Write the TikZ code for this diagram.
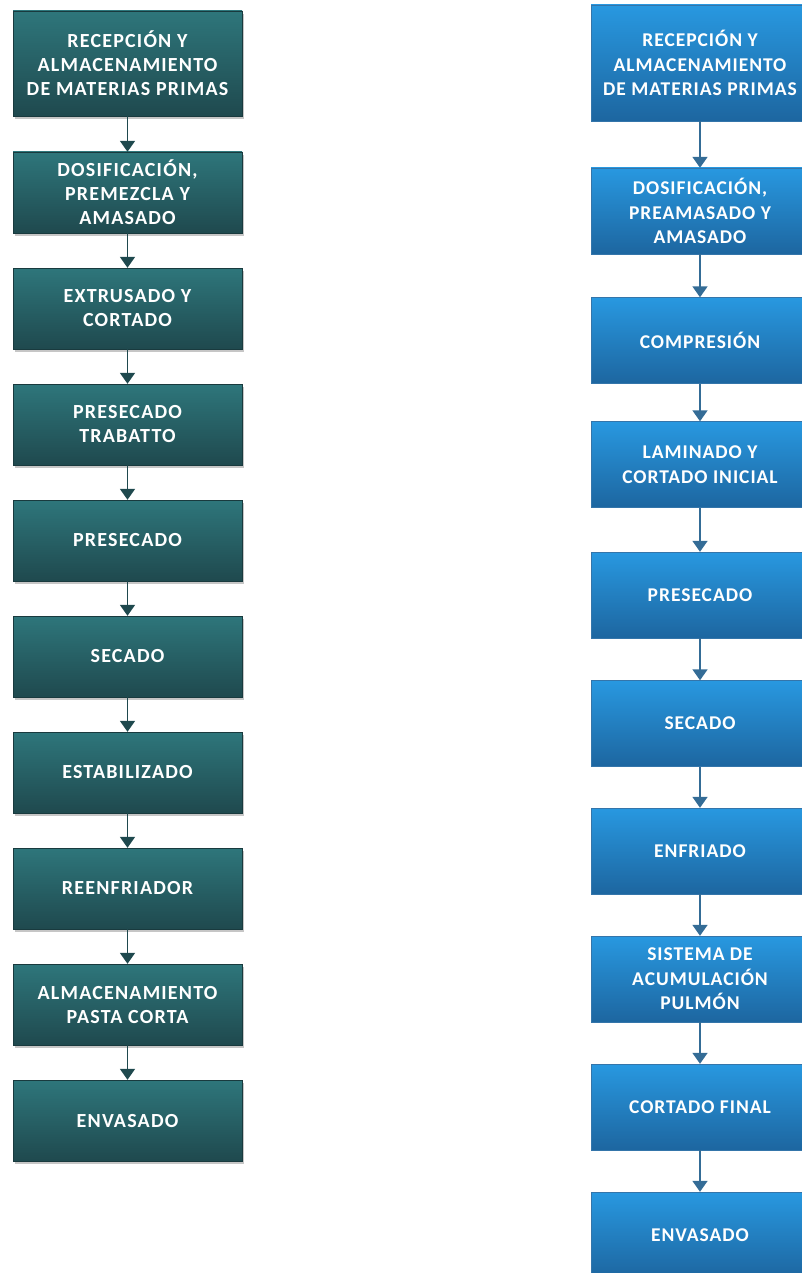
\documentclass[tikz,border=0pt]{standalone}
\usepackage{fontspec}
\usepackage{tikz}
\usetikzlibrary{arrows.meta,shadows}
\newfontfamily\boxfont{Carlito}[LetterSpace=6]
\newfontfamily\boxfontr{Carlito}[LetterSpace=5]

\definecolor{tealtop}{RGB}{46,118,123}
\definecolor{tealbot}{RGB}{31,73,78}
\definecolor{bluetop}{RGB}{40,152,224}
\definecolor{bluebot}{RGB}{29,102,160}
\definecolor{bluearrow}{RGB}{52,108,150}

\tikzset{
  leftbox/.style={rectangle, minimum width=229pt, minimum height=81pt, inner sep=0pt,
    top color=tealtop, bottom color=tealbot, draw=tealbot!80!black, line width=0.4pt,
    drop shadow={shadow xshift=2pt, shadow yshift=-3pt, opacity=0.45},
    text=white, align=center, font=\boxfont\bfseries\fontsize{20}{24}\selectfont},
  rightbox/.style={rectangle, minimum width=218pt, minimum height=86pt, inner sep=0pt,
    top color=bluetop, bottom color=bluebot, draw=bluebot!90!white, line width=0.4pt,
    text=white, align=center, font=\boxfontr\bfseries\fontsize{19.5}{24.5}\selectfont},
  leftarrow/.style={draw=tealbot, line width=1.8pt, -{Triangle[width=15pt,length=11pt]}},
  rightarrow/.style={draw=bluearrow, line width=1.8pt, -{Triangle[width=15pt,length=11pt]}}
}

\begin{document}
\begin{tikzpicture}[x=1pt,y=-1pt]
  \useasboundingbox (0,0) rectangle (802,1273);

  % pasta corta
  \node[leftbox, minimum height=105pt] (l1) at (127.5,63.5) {RECEPCIÓN Y\\ALMACENAMIENTO\\DE MATERIAS PRIMAS};
  \node[leftbox] (l2) at (127.5,192.5) {DOSIFICACIÓN,\\PREMEZCLA Y\\AMASADO};
  \node[leftbox] (l3) at (127.5,308.5) {EXTRUSADO Y\\CORTADO};
  \node[leftbox] (l4) at (127.5,424.5) {PRESECADO\\TRABATTO};
  \node[leftbox] (l5) at (127.5,540.5) {PRESECADO};
  \node[leftbox] (l6) at (127.5,656.5) {SECADO};
  \node[leftbox] (l7) at (127.5,772.5) {ESTABILIZADO};
  \node[leftbox] (l8) at (127.5,888.5) {REENFRIADOR};
  \node[leftbox] (l9) at (127.5,1004.5) {ALMACENAMIENTO\\PASTA CORTA};
  \node[leftbox] (l10) at (127.5,1120.5) {ENVASADO};

  % laminado
  \node[rightbox, minimum height=116pt] (r1) at (700,63) {RECEPCIÓN Y\\ALMACENAMIENTO\\DE MATERIAS PRIMAS};
  \node[rightbox] (r2) at (700,211) {DOSIFICACIÓN,\\PREAMASADO Y\\AMASADO};
  \node[rightbox] (r3) at (700,340.5) {COMPRESIÓN};
  \node[rightbox] (r4) at (700,464.5) {LAMINADO Y\\CORTADO INICIAL};
  \node[rightbox] (r5) at (700,595) {PRESECADO};
  \node[rightbox] (r6) at (700,723.5) {SECADO};
  \node[rightbox] (r7) at (700,851) {ENFRIADO};
  \node[rightbox] (r8) at (700,979) {SISTEMA DE\\ACUMULACIÓN\\PULMÓN};
  \node[rightbox] (r9) at (700,1107) {CORTADO FINAL};
  \node[rightbox] (r10) at (700,1235) {ENVASADO};

  % flechas
  \draw[leftarrow] (l1) -- (l2);
  \draw[leftarrow] (l2) -- (l3);
  \draw[leftarrow] (l3) -- (l4);
  \draw[leftarrow] (l4) -- (l5);
  \draw[leftarrow] (l5) -- (l6);
  \draw[leftarrow] (l6) -- (l7);
  \draw[leftarrow] (l7) -- (l8);
  \draw[leftarrow] (l8) -- (l9);
  \draw[leftarrow] (l9) -- (l10);

  \draw[rightarrow] (r1) -- (r2);
  \draw[rightarrow] (r2) -- (r3);
  \draw[rightarrow] (r3) -- (r4);
  \draw[rightarrow] (r4) -- (r5);
  \draw[rightarrow] (r5) -- (r6);
  \draw[rightarrow] (r6) -- (r7);
  \draw[rightarrow] (r7) -- (r8);
  \draw[rightarrow] (r8) -- (r9);
  \draw[rightarrow] (r9) -- (r10);
\end{tikzpicture}
\end{document}
